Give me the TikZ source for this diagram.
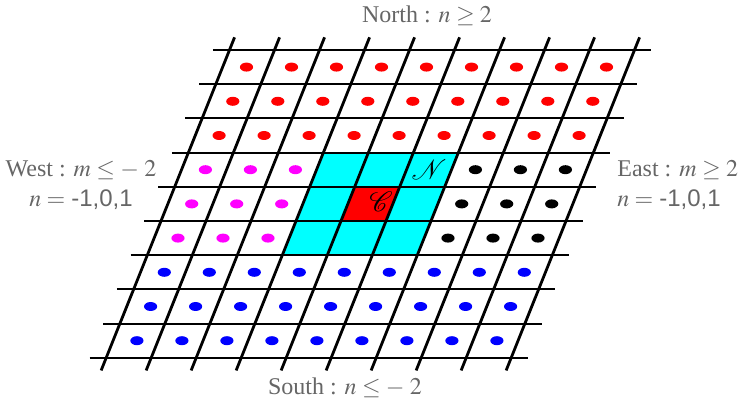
\documentclass[tikz,border=0pt]{standalone}
\usepackage{mathptmx}
\usepackage[no-math]{fontspec}
\setmainfont{Liberation Serif}
\newfontfamily\numfont{Liberation Sans}
\definecolor{nbcyan}{RGB}{0,255,255}
\definecolor{ctred}{RGB}{255,0,0}
\definecolor{dotred}{RGB}{255,0,0}
\definecolor{dotblue}{RGB}{0,0,255}
\definecolor{dotmag}{RGB}{255,0,255}

\begin{document}
\begin{tikzpicture}[
    x = 0.5pt, y = -0.5pt,
    gridh/.style   = {line width = 1.05pt, black},
    gridv/.style   = {line width = 1.4pt, black},
    site/.style    = {fill = #1},
    cell/.style    = {fill = #1},
    lbl/.style     = {text = black!60, inner sep = 0pt,
                      font = \fontsize{12}{15}\selectfont},
    celltag/.style = {inner sep = 0pt, font = \fontsize{14}{16}\selectfont},
  ]
    \useasboundingbox (0,0) rectangle (740,406);

    %% -- skewed lattice: one unit = one cell -----------------------
    \begin{scope}[shift = {(229.5,50)},
                  x = {(22.5pt,0pt)}, y = {(-6.85pt,-17.1pt)}]
      %% neighbourhood and centre cell
      \fill[cell = nbcyan] (3,3) -- (6,3) -- (6,6) -- (3,6) -- cycle;
      \fill[cell = ctred]  (4,4) -- (5,4) -- (5,5) -- (4,5) -- cycle;

      %% sites
      \foreach \r in {0,1,2}
        \foreach \c in {0,...,8}
          \fill[site = dotred] (\c+0.53,\r+0.5) ellipse [x radius = 3.3pt, y radius = 2.25pt];
      \foreach \r in {6,7,8}
        \foreach \c in {0,...,8}
          \fill[site = dotblue] (\c+0.53,\r+0.5) ellipse [x radius = 3.3pt, y radius = 2.25pt];
      \foreach \r in {3,4,5} {
        \foreach \c in {0,1,2}
          \fill[site = dotmag] (\c+0.53,\r+0.5) ellipse [x radius = 3.3pt, y radius = 2.25pt];
        \foreach \c in {6,7,8}
          \fill[site = black] (\c+0.53,\r+0.5) ellipse [x radius = 3.3pt, y radius = 2.25pt];
      }

      %% grid lines
      \foreach \r in {0,...,9}
        \draw[gridh] (-0.37,\r) -- (9.37,\r);
      \foreach \c in {0,...,9}
        \draw[gridv] (\c,-0.37) -- (\c,9.37);

      %% cell labels
      \node[celltag] (nbr) at (5.5,3.5)   {$\mathcal{N}$};
      \node[celltag] (ctr) at (4.72,4.45) {$\mathcal{C}$};
    \end{scope}

    %% -- region labels ----------------------------------------------
    \node[lbl] (north) at (427,16)  {North : $n \geq 2$};
    \node[lbl] (south) at (345,388) {South : $n \leq -\;2$};
    \node[lbl, align = center] (west) at (81,185)
      {West : $m \leq -\;2$\\$n =$ {\numfont -1,0,1}};
    \node[lbl, align = left, anchor = west] (east) at (617,185)
      {East : $m \geq 2$\\$n =$ {\numfont -1,0,1}};
  \end{tikzpicture}
\end{document}
